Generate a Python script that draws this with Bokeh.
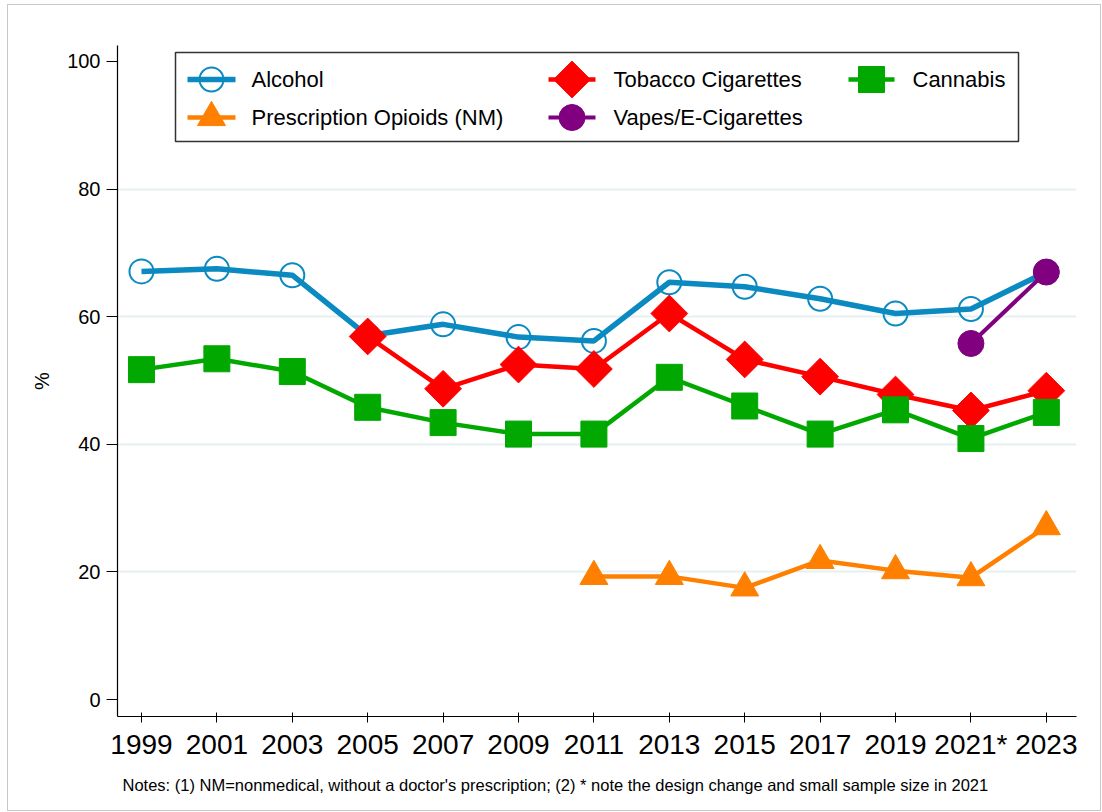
import math
from bokeh.plotting import figure
from bokeh.models import Range1d, FixedTicker, BoxAnnotation, Title
from bokeh.embed import file_html
from bokeh.resources import INLINE
from bokeh.core.properties import value

# ---------------- data ----------------
years = [1999, 2001, 2003, 2005, 2007, 2009, 2011, 2013, 2015, 2017, 2019, 2021, 2023]
tick_labels = ["1999", "2001", "2003", "2005", "2007", "2009", "2011", "2013",
               "2015", "2017", "2019", "2021*", "2023"]

alcohol_years = years
alcohol = [67.1, 67.5, 66.5, 57.0, 58.8, 56.8, 56.2, 65.4, 64.7, 62.8, 60.5, 61.2, 67.0]

tobacco_years = years[3:]
tobacco = [56.9, 48.7, 52.5, 51.8, 60.5, 53.3, 50.6, 47.8, 45.3, 48.4]

cannabis_years = years
cannabis = [51.7, 53.4, 51.4, 45.8, 43.4, 41.6, 41.6, 50.5, 46.0, 41.6, 45.4, 40.9, 45.0]

opioid_years = years[6:]
opioids = [19.3, 19.3, 17.5, 21.8, 20.2, 19.1, 27.1]

vape_years = [2021, 2023]
vapes = [55.8, 67.0]

y_ticks = [0, 20, 40, 60, 80, 100]
grid_ticks = [20, 40, 60, 80]

legend_labels = ["Alcohol", "Tobacco Cigarettes", "Cannabis",
                 "Prescription Opioids (NM)", "Vapes/E-Cigarettes"]
note_text = ("Notes: (1) NM=nonmedical, without a doctor's prescription; "
             "(2) * note the design change and small sample size in 2021")

# ---------------- styles ----------------
FONT = "Liberation Sans"
C_ALC = "#0A8AC0"
C_TOB = "#FF0000"
C_CAN = "#00A800"
C_OPI = "#FF8000"
C_VAP = "#800080"

series = [
    # label, xs, ys, color, line width, marker, size, filled, angle
    ("Alcohol", alcohol_years, alcohol, C_ALC, 5.5, "circle", 24, False, 0.0),
    ("Tobacco Cigarettes", tobacco_years, tobacco, C_TOB, 4.5, "square", 26, True, math.pi / 4),
    ("Cannabis", cannabis_years, cannabis, C_CAN, 4.5, "square", 26, True, 0.0),
    ("Prescription Opioids (NM)", opioid_years, opioids, C_OPI, 4.5, "triangle", 28, True, 0.0),
    ("Vapes/E-Cigarettes", vape_years, vapes, C_VAP, 4.0, "circle", 26, True, 0.0),
]

# ---------------- figure geometry ----------------
X0, X1 = 1998.364, 2023.80
Y0, Y1 = -2.66, 102.5
FRAME_W, FRAME_H = 959, 671
CANVAS_LEFT, CANVAS_TOP = 8, 5        # margin + 1px border
MB_LEFT, MB_TOP = 109, 40
FRAME_LEFT = CANVAS_LEFT + MB_LEFT    # 117
FRAME_TOP = CANVAS_TOP + MB_TOP       # 45


def px_x(px):
    return X0 + (px - FRAME_LEFT) * (X1 - X0) / FRAME_W


def px_y(py):
    return Y1 - (py - FRAME_TOP) * (Y1 - Y0) / FRAME_H


p = figure(frame_width=FRAME_W, frame_height=FRAME_H,
           x_range=Range1d(X0, X1), y_range=Range1d(Y0, Y1),
           min_border_left=MB_LEFT, min_border_right=24,
           min_border_top=MB_TOP, min_border_bottom=94,
           output_backend="svg", toolbar_location=None,
           background_fill_color="white", border_fill_color="white",
           outline_line_color=None)
p.styles = {"border": "1px solid #c8c8c8", "margin": "4px 0px 0px 7px"}

# grid
p.xgrid.visible = False
p.ygrid.ticker = FixedTicker(ticks=grid_ticks)
p.ygrid.grid_line_color = "#E6EFF1"
p.ygrid.grid_line_width = 2

# x axis
xa = p.xaxis[0]
xa.ticker = FixedTicker(ticks=years)
xa.major_label_overrides = {y: t for y, t in zip(years, tick_labels)}
xa.major_label_text_font = FONT
xa.major_label_text_font_size = "28px"
xa.major_label_text_color = "black"
xa.major_label_standoff = 6
xa.major_tick_in = 4
xa.major_tick_out = 6
xa.minor_tick_line_color = None
xa.axis_line_color = "black"
xa.major_tick_line_color = "black"
xa.axis_line_width = 1.2

# y axis
ya = p.yaxis[0]
ya.ticker = FixedTicker(ticks=y_ticks)
ya.major_label_text_font = FONT
ya.major_label_text_font_size = "20px"
ya.major_label_text_color = "black"
ya.major_label_standoff = 6
ya.major_tick_in = 0
ya.major_tick_out = 11
ya.minor_tick_line_color = None
ya.axis_line_color = "black"
ya.major_tick_line_color = "black"
ya.axis_line_width = 1.2
ya.axis_label = "%"
ya.axis_label_text_font = FONT
ya.axis_label_text_font_size = "20px"
ya.axis_label_text_font_style = "normal"
ya.axis_label_text_color = "black"
ya.axis_label_standoff = 11

# series
for label, xs, ys, color, lw, marker, size, filled, angle in series:
    p.line(xs, ys, line_color=color, line_width=lw)
    p.scatter(xs, ys, marker=marker, size=size, angle=angle,
              fill_color=color if filled else None,
              line_color=color, line_width=2 if not filled else 1)

# ---------------- legend (drawn manually to keep large markers) ----------------
legend_box = BoxAnnotation(left=px_x(175), right=px_x(1018),
                           top=px_y(52), bottom=px_y(141),
                           fill_alpha=0, line_color="#333333", line_alpha=1.0,
                           line_width=1.5)
p.add_layout(legend_box)

col_glyph = [(187, 235), (548, 595), (848, 894)]
col_text = [251, 613, 912]
row_y = [79, 117]
slots = [(0, 0), (0, 1), (0, 2), (1, 0), (1, 1)]
lookup = {s[0]: s for s in series}
for lab, (r, c) in zip(legend_labels, slots):
    _, _, _, color, lw, marker, size, filled, angle = lookup[lab]
    gx0, gx1 = col_glyph[c]
    yy = px_y(row_y[r])
    p.line([px_x(gx0), px_x(gx1)], [yy, yy], line_color=color, line_width=lw)
    p.scatter([px_x((gx0 + gx1) / 2)], [yy], marker=marker, size=size, angle=angle,
              fill_color=color if filled else None,
              line_color=color, line_width=2 if not filled else 1)
    p.text([px_x(col_text[c])], [yy], text=[lab], text_font=value(FONT),
           text_font_size="22px", text_baseline="middle", text_align="left",
           text_color="black")

# notes (below the x axis)
p.add_layout(Title(text=note_text, align="left", offset=5, standoff=22,
                   text_font=FONT, text_font_size="16.5px",
                   text_font_style="normal", text_color="black"), "below")

open("out.html", "w").write(file_html(p, INLINE))
